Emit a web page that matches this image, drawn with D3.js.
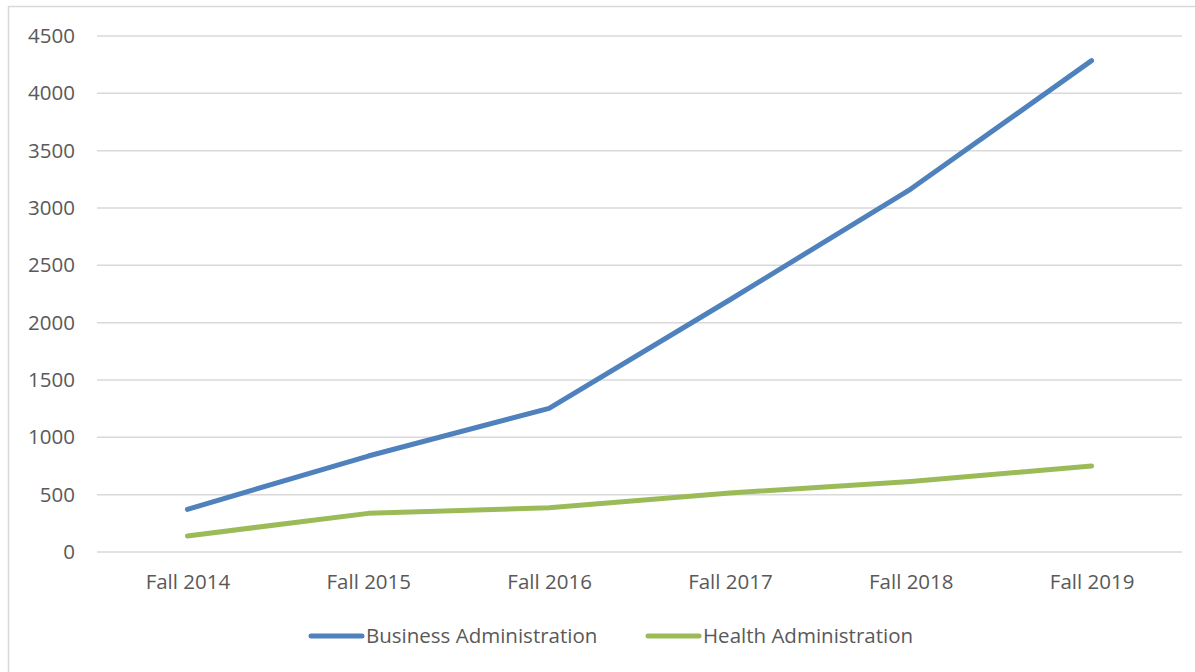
<!DOCTYPE html>
<html><head><meta charset="utf-8">
<script src="https://cdn.jsdelivr.net/npm/d3@7"></script>
<style>body{margin:0;background:#fff}svg{display:block}text{font-family:"Open Sans",sans-serif;fill:#595959}</style>
</head><body>
<svg id="c" width="1195" height="672"></svg>
<script>
const categories = ["Fall 2014","Fall 2015","Fall 2016","Fall 2017","Fall 2018","Fall 2019"];
const business = [372, 837, 1253, 2200, 3165, 4285];
const health = [140, 337, 386, 515, 615, 750];
const yTicks = [0,500,1000,1500,2000,2500,3000,3500,4000,4500];
const seriesNames = ["Business Administration","Health Administration"];
const colors = ["#4f81bd","#9bbb59"];

const svg = d3.select("#c");
svg.append("rect").attr("x",8.5).attr("y",6.5).attr("width",1200).attr("height",700)
  .attr("fill","#fff").attr("stroke","#d9d9d9").attr("stroke-width",1.5);

const L=97,R=1182,T=36,B=552;
const x = d3.scalePoint().domain(categories).range([L,R]).padding(0.5);
const y = d3.scaleLinear().domain([0,4500]).range([B,T]);

const g = svg.append("g");
g.selectAll("line.grid").data(yTicks).join("line").attr("class","grid")
  .attr("x1",L).attr("x2",R).attr("y1",d=>y(d)).attr("y2",d=>y(d))
  .attr("stroke","#d9d9d9").attr("stroke-width",1.5);

const fs = "20.5px";
const ya = svg.append("g").attr("transform",`translate(${L},0)`)
  .call(d3.axisLeft(y).tickValues(yTicks).tickSize(0).tickPadding(22).tickFormat(d3.format("d")));
ya.select(".domain").remove();
ya.selectAll("text").style("font-size",fs).attr("fill","#595959").style("font-family","'Open Sans',sans-serif");

const xa = svg.append("g").attr("transform",`translate(0,${B})`)
  .call(d3.axisBottom(x).tickSize(0).tickPadding(22));
xa.select(".domain").remove();
xa.selectAll("text").style("font-size",fs).attr("fill","#595959").style("font-family","'Open Sans',sans-serif");

const line = d3.line().x((d,i)=>x(categories[i])).y(d=>y(d));
[business,health].forEach((s,k)=>{
  svg.append("path").datum(s).attr("d",line).attr("fill","none")
    .attr("stroke",colors[k]).attr("stroke-width",5).attr("stroke-linecap","round").attr("stroke-linejoin","round");
});

const legX=[311,648];
seriesNames.forEach((n,k)=>{
  const lg = svg.append("g").attr("transform",`translate(${legX[k]},636)`);
  lg.append("line").attr("x1",0).attr("x2",51).attr("y1",0).attr("y2",0)
    .attr("stroke",colors[k]).attr("stroke-width",5).attr("stroke-linecap","round");
  lg.append("text").attr("x",55).attr("y",0).attr("dy","0.35em").style("font-size",fs).text(n);
});
</script>
</body></html>
